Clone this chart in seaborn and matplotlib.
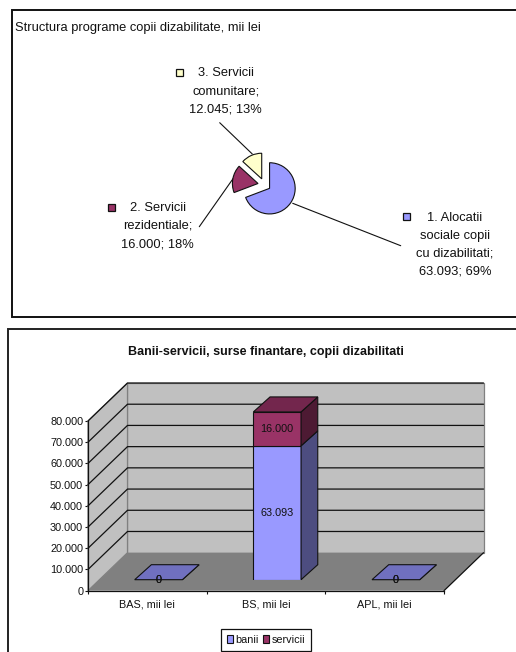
import matplotlib
matplotlib.use("Agg")
import matplotlib.pyplot as plt
from matplotlib.patches import Rectangle, Polygon
from matplotlib.lines import Line2D
import pandas as pd
import seaborn as sns

# Programme structure (thousand lei)
pie_labels = ["1. Alocatii\nsociale copii\ncu dizabilitati;", "2. Servicii\nrezidentiale;", "3. Servicii\ncomunitare;"]
pie_values = [63093, 16000, 12045]
pie_shares = [69, 18, 13]
pie_colors = ["#9999FF", "#993366", "#FFFFCC"]

# Funding sources by category
sources = ["BAS, mii lei", "BS, mii lei", "APL, mii lei"]
banii = [0, 63093, 0]
servicii = [0, 16000, 0]
y_ticks = [0, 10000, 20000, 30000, 40000, 50000, 60000, 70000, 80000]

W, H = 516, 652
FS = 9.3
FS_SMALL = 7.8


def fmt(v):
    return f"{v:,}".replace(",", ".")


def axes_at(x0, y0, x1, y1, **kw):
    """Axes placed by pixel box, with y measured from the top of the figure."""
    return fig.add_axes([x0 / W, 1 - y1 / H, (x1 - x0) / W, (y1 - y0) / H], **kw)


sns.set_theme(style="white")
plt.rcParams["font.family"] = ["Liberation Sans", "DejaVu Sans"]
fig = plt.figure(figsize=(W / 100, H / 100), dpi=100, facecolor="white")

# Page layer holding both chart frames and the pie annotations
page = axes_at(0, 0, W, H, zorder=0)
page.set_xlim(0, W)
page.set_ylim(H, 0)
page.axis("off")
page.add_patch(Rectangle((11.5, 9.5), 520, 307, fc="white", ec="#111111", lw=1.4))
page.add_patch(Rectangle((7.5, 329), 520, 340, fc="white", ec="#222222", lw=1.4))
page.text(15, 27.5, "Structura programe copii dizabilitate, mii lei", fontsize=FS, color="#111111",
          ha="left", va="center")

# Exploded pie
R_PX = 25.6
cx, cy, half = 264.3, 184.7, 48
pie_ax = axes_at(cx - half, cy - half, cx + half, cy + half, zorder=1)
pie_ax.pie(pie_values, colors=pie_colors, startangle=90, counterclock=False, explode=[0.25, 0.25, 0.25],
           wedgeprops=dict(edgecolor="#111111", linewidth=0.8))
pie_ax.set_xlim(-half / R_PX, half / R_PX)
pie_ax.set_ylim(-half / R_PX, half / R_PX)
pie_ax.set_aspect("equal")

label_spots = [(455, 244.7), (157.5, 226), (225.7, 91)]
key_spots = [(406.3, 216.3), (111.7, 207.7), (179.3, 72.3)]
leaders = [((292.7, 203.3), (400.7, 245.7)), ((233.3, 178.3), (199.3, 226.7)), ((252.3, 154), (219.7, 122.7))]
for name, val, share, col, (lx, ly), (kx, ky), (p, q) in zip(pie_labels, pie_values, pie_shares, pie_colors,
                                                             label_spots, key_spots, leaders):
    page.text(lx, ly, f"{name}\n{fmt(val)}; {share}%", fontsize=FS, color="#111111", ha="center", va="center",
              linespacing=1.68, multialignment="center")
    page.add_patch(Rectangle((kx - 3.7, ky - 3.7), 7.4, 7.4, fc=col, ec="#111111", lw=0.9))
    page.add_line(Line2D([p[0], q[0]], [p[1], q[1]], color="#111111", lw=0.8))
page.text(266, 352.5, "Banii-servicii, surse finantare, copii dizabilitati", fontsize=9.0, fontweight="bold",
          color="#111111", ha="center", va="center")

# Front plane of the 3D box: holds the value and category axes
X0, X1, Y_BASE, Y_TOP = 88, 444, 590.7, 421
ax = axes_at(X0, Y_TOP, X1, Y_BASE, zorder=2)
ax.patch.set_alpha(0)
ax.set_xlim(-0.5, 2.5)
ax.set_ylim(0, 80000)
px_x = 3 / (X1 - X0)
px_y = 80000 / (Y_BASE - Y_TOP)
BOX_DX, BOX_DY = 39.5 * px_x, 38 * px_y
x_l, x_r, top = -0.5, 2.5, 80000

ax.add_patch(Polygon([(x_l + BOX_DX, BOX_DY), (x_r + BOX_DX, BOX_DY), (x_r + BOX_DX, top + BOX_DY),
                      (x_l + BOX_DX, top + BOX_DY)], fc="#C0C0C0", ec="#808080", lw=0.9, clip_on=False, zorder=1))
ax.add_patch(Polygon([(x_l, 0), (x_l + BOX_DX, BOX_DY), (x_l + BOX_DX, top + BOX_DY), (x_l, top)],
                     fc="#C0C0C0", ec="#808080", lw=0.9, clip_on=False, zorder=1))
ax.add_patch(Polygon([(x_l, 0), (x_r, 0), (x_r + BOX_DX, BOX_DY), (x_l + BOX_DX, BOX_DY)],
                     fc="#808080", ec="none", clip_on=False, zorder=1))
ax.plot([x_r, x_r + BOX_DX], [0, BOX_DY], color="#111111", lw=0.9, clip_on=False, zorder=2)
for t in y_ticks[1:]:
    ax.plot([x_l, x_l + BOX_DX, x_r + BOX_DX], [t, t + BOX_DY, t + BOX_DY], color="#111111", lw=0.9,
            clip_on=False, zorder=2)

ax.set_yticks(y_ticks, [fmt(t) for t in y_ticks])
ax.set_xticks([0, 1, 2], sources)
ax.set_xticks([-0.5, 0.5, 1.5, 2.5], minor=True)
ax.tick_params(axis="y", length=2.5, width=0.8, color="#111111", labelsize=FS_SMALL, labelcolor="#111111", pad=1,
               left=True)
ax.tick_params(axis="x", which="major", length=0, labelsize=FS_SMALL, labelcolor="#111111", pad=6)
ax.tick_params(axis="x", which="minor", length=2.5, width=0.8, color="#111111", bottom=True)
ax.set_xlabel("")
ax.set_ylabel("")
sns.despine(ax=ax, top=True, right=True)
for side in ("left", "bottom"):
    ax.spines[side].set_color("#111111")
    ax.spines[side].set_linewidth(0.9)

# Bars stand part-way into the box, so they get an identical axes pushed back in depth
BAR_SHIFT_X, BAR_SHIFT_Y = 11.2, 11.0
bar_ax = axes_at(X0 + BAR_SHIFT_X, Y_TOP - BAR_SHIFT_Y, X1 + BAR_SHIFT_X, Y_BASE - BAR_SHIFT_Y, zorder=3)
bar_ax.patch.set_alpha(0)
frame = pd.DataFrame({"source": sources, "banii": banii, "servicii": servicii})
BAR_W = 0.402
sns.barplot(data=frame, x="source", y="banii", color="#9999FF", saturation=1, width=BAR_W, ax=bar_ax,
            edgecolor="#111111", linewidth=0.8)
sns.barplot(data=frame, x="source", y="servicii", color="#993366", saturation=1, width=BAR_W, ax=bar_ax,
            bottom=frame["banii"], edgecolor="#111111", linewidth=0.8)
bar_ax.set_xlim(-0.5, 2.5)
bar_ax.set_ylim(0, 80000)
bar_ax.axis("off")

DEPTH_X, DEPTH_Y = 16.7 * px_x, 15 * px_y
SIDE = {"banii": "#4D4D80", "servicii": "#4D1A33"}
TOPS = {"banii": "#7070BF", "servicii": "#73264D"}
poly = dict(ec="#111111", lw=0.8, clip_on=False, zorder=4)
for i, (a, b) in enumerate(zip(banii, servicii)):
    r = i + BAR_W / 2
    l = i - BAR_W / 2
    bar_ax.add_patch(Polygon([(r, 0), (r + DEPTH_X, DEPTH_Y), (r + DEPTH_X, a + DEPTH_Y), (r, a)],
                             fc=SIDE["banii"], **poly))
    if b:
        bar_ax.add_patch(Polygon([(r, a), (r + DEPTH_X, a + DEPTH_Y), (r + DEPTH_X, a + b + DEPTH_Y), (r, a + b)],
                                 fc=SIDE["servicii"], **poly))
    total = a + b
    bar_ax.add_patch(Polygon([(l, total), (r, total), (r + DEPTH_X, total + DEPTH_Y), (l + DEPTH_X, total + DEPTH_Y)],
                             fc=TOPS["servicii" if b else "banii"], **poly))
    bar_ax.text(i, a / 2, fmt(a), fontsize=FS_SMALL, color="#111111", ha="center", va="center", zorder=5)
    bar_ax.text(i, a + b / 2, fmt(b), fontsize=FS_SMALL, color="#111111", ha="center", va="center", zorder=5)

handles = [Rectangle((0, 0), 1, 1, fc="#9999FF", ec="#111111", lw=0.8),
           Rectangle((0, 0), 1, 1, fc="#993366", ec="#111111", lw=0.8)]
page.legend(handles, ["banii", "servicii"], loc="center", bbox_to_anchor=(266 / W, 1 - 640 / H),
            bbox_transform=fig.transFigure, ncol=2, fontsize=FS_SMALL, frameon=True, fancybox=False,
            edgecolor="#111111", framealpha=1, handlelength=0.55, handleheight=0.8, handletextpad=0.25,
            columnspacing=0.4, borderpad=0.55, labelcolor="#111111").get_frame().set_linewidth(0.9)

fig.savefig("out.png", dpi=100)
